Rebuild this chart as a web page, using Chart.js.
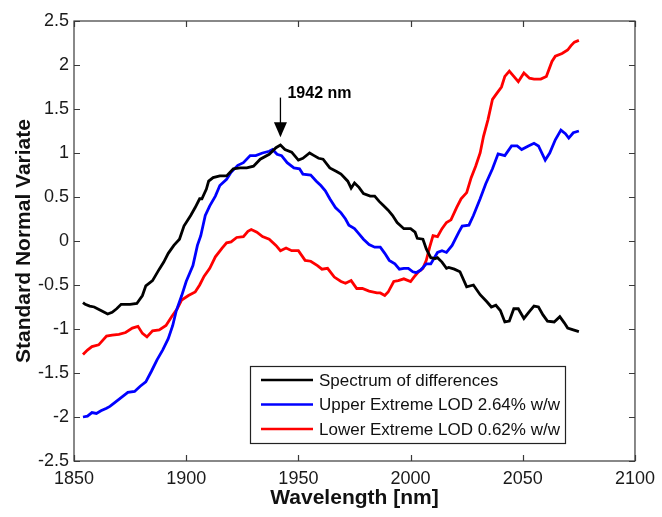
<!DOCTYPE html>
<html>
<head>
<meta charset="utf-8">
<script src="https://cdn.jsdelivr.net/npm/chart.js@4.4.1/dist/chart.umd.min.js"></script>
<style>
  html, body { margin: 0; padding: 0; background: #fff; }
  #wrap { width: 662px; height: 517px; position: relative; }
</style>
</head>
<body>
<div id="wrap"><canvas id="snvChart"></canvas></div>
<script>
// Valores (comprimento de onda em nm, SNV)
const blackNm = [1854, 1855, 1857, 1859, 1862, 1865, 1867, 1869, 1871, 1875, 1878, 1880.5, 1882, 1885, 1888, 1890, 1892, 1894.5, 1897, 1899, 1902, 1904, 1906, 1907, 1909, 1910, 1912, 1915, 1918, 1921, 1924, 1927, 1930, 1933, 1937, 1940, 1942, 1944, 1947, 1950, 1952, 1955, 1957, 1959, 1961, 1964, 1967, 1969, 1972, 1973.5, 1975, 1977, 1979, 1982, 1984, 1986, 1988, 1990, 1992, 1994, 1997, 2000, 2002, 2003, 2005.5, 2007, 2009, 2011, 2012, 2014, 2016, 2017, 2019.5, 2022, 2025, 2028, 2031, 2034, 2036, 2038, 2040, 2042, 2044, 2046, 2048, 2050.5, 2053, 2055, 2057, 2059, 2061, 2064, 2066.5, 2068.5, 2070, 2072.5, 2075];
const blackSnv = [-0.70, -0.72, -0.74, -0.75, -0.79, -0.83, -0.81, -0.77, -0.72, -0.72, -0.71, -0.62, -0.51, -0.45, -0.32, -0.24, -0.14, -0.05, 0.02, 0.17, 0.29, 0.38, 0.48, 0.48, 0.59, 0.68, 0.72, 0.74, 0.74, 0.82, 0.83, 0.83, 0.85, 0.93, 0.985, 1.06, 1.09, 1.04, 1.01, 0.92, 0.94, 1.00, 0.97, 0.94, 0.93, 0.83, 0.79, 0.76, 0.68, 0.60, 0.66, 0.61, 0.54, 0.51, 0.51, 0.45, 0.40, 0.35, 0.29, 0.21, 0.14, 0.14, 0.10, 0.03, 0.02, -0.09, -0.19, -0.20, -0.19, -0.24, -0.31, -0.30, -0.32, -0.35, -0.52, -0.50, -0.61, -0.69, -0.75, -0.73, -0.79, -0.92, -0.91, -0.77, -0.77, -0.88, -0.80, -0.74, -0.75, -0.84, -0.91, -0.92, -0.86, -0.93, -0.99, -1.01, -1.03];

const blueNm = [1854, 1856, 1858, 1860, 1862, 1864.5, 1866, 1868, 1871, 1874, 1877, 1879.5, 1882, 1884.5, 1887, 1889.5, 1892, 1894, 1895.5, 1898, 1900, 1903, 1905, 1906.5, 1908.5, 1910.5, 1913, 1915, 1918, 1920, 1923, 1925.5, 1928.5, 1931, 1934, 1937, 1938.5, 1940.5, 1942.5, 1945, 1948, 1950.5, 1952, 1955.5, 1958, 1960, 1962, 1964, 1966.5, 1969, 1971, 1972.5, 1975, 1977, 1979, 1981.5, 1984, 1986.5, 1988.5, 1990.5, 1993, 1995, 1997, 1999, 2001, 2002.5, 2004.5, 2007, 2009, 2012, 2014, 2016, 2018.5, 2021.5, 2023, 2026, 2028, 2031, 2033.5, 2036.5, 2039, 2042, 2045, 2047.5, 2049.5, 2052.5, 2055, 2057, 2060, 2062, 2064.5, 2067, 2069, 2070.5, 2072.5, 2075];
const blueSnv = [-2.00, -1.99, -1.95, -1.96, -1.93, -1.90, -1.88, -1.84, -1.78, -1.72, -1.71, -1.65, -1.60, -1.48, -1.35, -1.24, -1.11, -0.96, -0.80, -0.62, -0.46, -0.28, -0.05, 0.06, 0.29, 0.40, 0.51, 0.63, 0.70, 0.78, 0.86, 0.89, 0.97, 0.97, 1.00, 1.02, 1.04, 0.985, 0.97, 0.89, 0.83, 0.82, 0.76, 0.75, 0.68, 0.63, 0.57, 0.48, 0.38, 0.32, 0.25, 0.18, 0.14, 0.08, 0.02, -0.04, -0.07, -0.07, -0.14, -0.22, -0.26, -0.32, -0.31, -0.31, -0.35, -0.36, -0.33, -0.26, -0.26, -0.13, -0.11, -0.13, -0.05, 0.10, 0.17, 0.18, 0.29, 0.48, 0.65, 0.82, 0.99, 0.97, 1.08, 1.08, 1.04, 1.08, 1.11, 1.08, 0.92, 1.00, 1.15, 1.26, 1.22, 1.17, 1.23, 1.25];

const redNm = [1854, 1856, 1858, 1861, 1864.5, 1867, 1870, 1873, 1876, 1878.5, 1880.5, 1882.5, 1885, 1888, 1891, 1893.5, 1896, 1898, 1901, 1904, 1906, 1908, 1910.5, 1913, 1916, 1918, 1920, 1922.5, 1925.5, 1927.5, 1929, 1931.5, 1934, 1937, 1940, 1942, 1944.5, 1947, 1950, 1953, 1955.5, 1958.5, 1960.5, 1963, 1966, 1969, 1971, 1973.5, 1976, 1978.5, 1981.5, 1985, 1986.5, 1988.5, 1990, 1992.5, 1994.5, 1997, 2000, 2001.5, 2003.5, 2005.5, 2007, 2008.5, 2010, 2012, 2014, 2016, 2018, 2020.5, 2022.5, 2025, 2027, 2029, 2031, 2032.5, 2034.5, 2036.5, 2038.5, 2040.5, 2042, 2044, 2046, 2048, 2050.5, 2053, 2055, 2058, 2060.5, 2063, 2064.5, 2067.5, 2070, 2071.5, 2073, 2075];
const redSnv = [-1.29, -1.24, -1.20, -1.18, -1.08, -1.07, -1.06, -1.04, -0.99, -0.97, -1.05, -1.09, -1.02, -1.01, -0.96, -0.86, -0.77, -0.67, -0.62, -0.58, -0.50, -0.40, -0.31, -0.18, -0.08, -0.02, -0.01, 0.04, 0.05, 0.11, 0.13, 0.10, 0.05, 0.02, -0.05, -0.11, -0.08, -0.11, -0.11, -0.22, -0.23, -0.28, -0.32, -0.31, -0.41, -0.46, -0.48, -0.45, -0.54, -0.54, -0.57, -0.59, -0.59, -0.62, -0.58, -0.46, -0.45, -0.43, -0.46, -0.41, -0.35, -0.31, -0.22, -0.07, 0.06, 0.05, 0.14, 0.21, 0.24, 0.38, 0.48, 0.55, 0.72, 0.85, 1.00, 1.19, 1.38, 1.61, 1.68, 1.75, 1.87, 1.93, 1.87, 1.81, 1.91, 1.85, 1.84, 1.84, 1.87, 2.04, 2.10, 2.13, 2.17, 2.22, 2.26, 2.28];

const seriesLabels = ['Spectrum of differences', 'Upper Extreme LOD 2.64% w/w', 'Lower Extreme LOD 0.62% w/w'];
const seriesColors = ['#000000', '#0000ff', '#ff0000'];

const xTickLabels = ['1850', '1900', '1950', '2000', '2050', '2100'];
const yTickLabels = ['-2.5', '-2', '-1.5', '-1', '-0.5', '0', '0.5', '1', '1.5', '2', '2.5'];

// Anotação do pico
const peakNm = 1942;
const peakLabel = '1942 nm';

const FONT = '"Liberation Sans", Arial, Helvetica, sans-serif';

function toPoints(xs, ys) {
    return xs.map((x, i) => ({ x: x, y: ys[i] }));
}

// Moldura e ticks para dentro (estilo MATLAB), legenda e seta
const matlabPlugin = {
    id: 'matlabFrame',
    afterDraw(chart) {
        const ctx = chart.ctx;
        const area = chart.chartArea;
        const xs = chart.scales.x;
        const ys = chart.scales.y;
        const tickLen = 6;

        ctx.save();
        ctx.strokeStyle = '#3a3a3a';
        ctx.lineWidth = 1.2;
        ctx.strokeRect(area.left, area.top, area.right - area.left, area.bottom - area.top);

        ctx.beginPath();
        xs.ticks.forEach(t => {
            const px = Math.round(xs.getPixelForValue(t.value)) + 0.5;
            ctx.moveTo(px, area.bottom);
            ctx.lineTo(px, area.bottom - tickLen);
            ctx.moveTo(px, area.top);
            ctx.lineTo(px, area.top + tickLen);
        });
        ys.ticks.forEach(t => {
            const py = Math.round(ys.getPixelForValue(t.value)) + 0.5;
            ctx.moveTo(area.left, py);
            ctx.lineTo(area.left + tickLen, py);
            ctx.moveTo(area.right, py);
            ctx.lineTo(area.right - tickLen, py);
        });
        ctx.stroke();

        // Seta do pico
        const ax = xs.getPixelForValue(peakNm);
        const aTop = ys.getPixelForValue(1.63);
        const aTip = ys.getPixelForValue(1.18);
        ctx.strokeStyle = '#000';
        ctx.fillStyle = '#000';
        ctx.lineWidth = 1.3;
        ctx.beginPath();
        ctx.moveTo(ax, aTop);
        ctx.lineTo(ax, aTip - 12);
        ctx.stroke();
        ctx.beginPath();
        ctx.moveTo(ax - 6.5, aTip - 15);
        ctx.lineTo(ax + 6.5, aTip - 15);
        ctx.lineTo(ax, aTip);
        ctx.closePath();
        ctx.fill();

        ctx.font = 'bold 16px ' + FONT;
        ctx.textAlign = 'left';
        ctx.textBaseline = 'middle';
        ctx.fillText(peakLabel, ax + 7, aTop - 4);

        // Legenda
        const lx = 250, ly = 366, lw = 315, lh = 77;
        ctx.fillStyle = '#fff';
        ctx.fillRect(lx, ly, lw, lh);
        ctx.strokeStyle = '#222';
        ctx.lineWidth = 1.2;
        ctx.strokeRect(lx + 0.5, ly + 0.5, lw, lh);
        ctx.font = '17px ' + FONT;
        ctx.textBaseline = 'middle';
        chart.data.datasets.forEach((ds, i) => {
            const rowY = ly + 14 + i * 24.5;
            ctx.strokeStyle = ds.borderColor;
            ctx.lineWidth = 2.6;
            ctx.beginPath();
            ctx.moveTo(lx + 11, rowY);
            ctx.lineTo(lx + 63, rowY);
            ctx.stroke();
            ctx.fillStyle = '#111';
            ctx.fillText(ds.label, lx + 69, rowY + 1);
        });
        ctx.restore();
    }
};

const ctx = document.getElementById('snvChart');

new Chart(ctx, {
    type: 'line',
    data: {
        datasets: [
            { label: seriesLabels[0], data: toPoints(blackNm, blackSnv), borderColor: seriesColors[0] },
            { label: seriesLabels[1], data: toPoints(blueNm, blueSnv), borderColor: seriesColors[1] },
            { label: seriesLabels[2], data: toPoints(redNm, redSnv), borderColor: seriesColors[2] }
        ]
    },
    options: {
        responsive: true,
        maintainAspectRatio: false,
        animation: false,
        layout: { padding: { top: 21, right: 25, left: 0, bottom: 0 } },
        elements: {
            point: { radius: 0 },
            line: { borderWidth: 2.8, tension: 0, fill: false }
        },
        scales: {
            x: {
                type: 'linear',
                min: 1850,
                max: 2100,
                ticks: {
                    stepSize: 50,
                    color: '#1a1a1a',
                    font: { family: FONT, size: 18 },
                    padding: 7,
                    maxRotation: 0,
                    callback: function (value, index) {
                        return xTickLabels[index];
                    }
                },
                grid: { display: false, drawTicks: false, tickLength: 0 },
                border: { display: false },
                title: {
                    display: true,
                    text: 'Wavelength [nm]',
                    color: '#111',
                    font: { family: FONT, size: 21, weight: 'bold' },
                    padding: { top: 0, bottom: 6 }
                },
                afterFit: function (scale) { scale.height = 56; }
            },
            y: {
                min: -2.5,
                max: 2.5,
                ticks: {
                    stepSize: 0.5,
                    color: '#1a1a1a',
                    font: { family: FONT, size: 18 },
                    padding: 5,
                    callback: function (value, index) {
                        return yTickLabels[index];
                    }
                },
                grid: { display: false, drawTicks: false, tickLength: 0 },
                border: { display: false },
                title: {
                    display: true,
                    text: 'Standard Normal Variate',
                    color: '#111',
                    font: { family: FONT, size: 21, weight: 'bold' },
                    padding: { top: 12, bottom: 0 }
                },
                afterFit: function (scale) { scale.width = 74; }
            }
        },
        plugins: {
            legend: { display: false },
            tooltip: { enabled: false }
        }
    },
    plugins: [matlabPlugin]
});
</script>
</body>
</html>
